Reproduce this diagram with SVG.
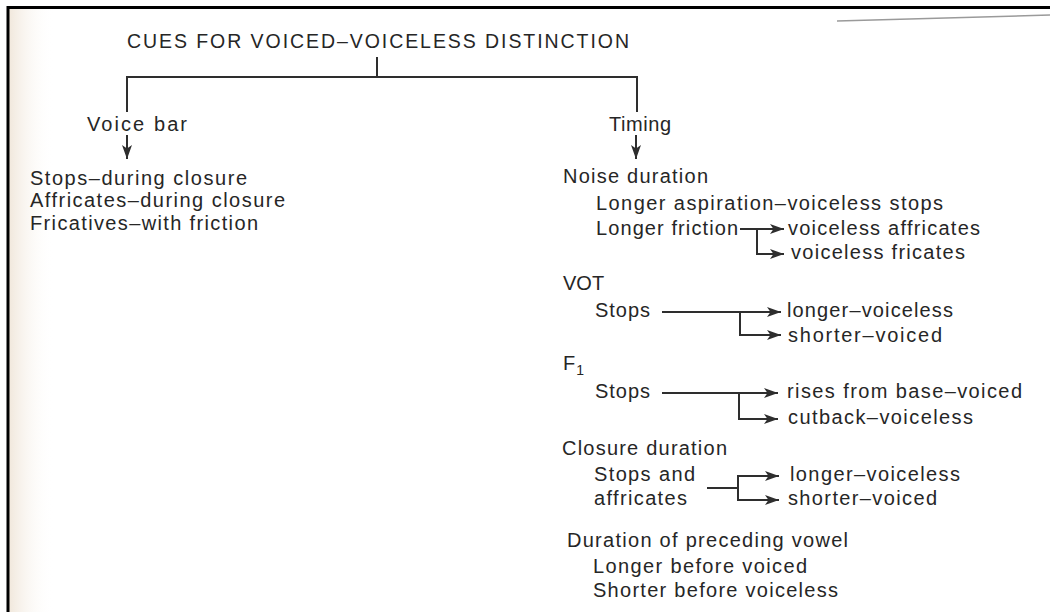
<svg xmlns="http://www.w3.org/2000/svg" width="1050" height="612" viewBox="0 0 1050 612">
<style>
  text { font-family: "Liberation Sans", Arial, sans-serif; font-size: 20px; fill: #262626; }
  .title { font-size: 19.5px; }
  .sub { font-size: 14px; }
  .ln { stroke: #2e2e2e; stroke-width: 2; fill: none; }
  .ar { stroke: #2e2e2e; stroke-width: 2; fill: none; marker-end: url(#ah); }
  .frame { stroke: #000; stroke-width: 3; fill: none; }
</style>
<defs>
  <marker id="ah" markerUnits="userSpaceOnUse" markerWidth="15" markerHeight="11" refX="14" refY="5.5" orient="auto">
    <path d="M0,0.5 L14,5.5 L0,10.5 L3.5,5.5 z" fill="#2e2e2e"/>
  </marker>
  <linearGradient id="edge" x1="0" y1="0" x2="1" y2="0">
    <stop offset="0" stop-color="#f1e8dc"/>
    <stop offset="1" stop-color="#ffffff" stop-opacity="0"/>
  </linearGradient>
</defs>
<rect x="0" y="0" width="1050" height="612" fill="#ffffff"/>
<rect x="9" y="9" width="45" height="603" fill="url(#edge)"/>
<g id="frame">
  <path class="frame" d="M8,612 V7.5 H1050"/>
  <path d="M837,21 L1050,15" stroke="#9a9a9a" stroke-width="1.5" fill="none"/>
</g>

<g id="connectors">
  <path class="ln" d="M377,57 V77"/>
  <path class="ln" d="M127,112 V77 H637 V112"/>
  <path class="ar" d="M127,135 V159"/>
  <path class="ar" d="M636,135 V159"/>
  <path class="ar" d="M740,229 H784"/>
  <path class="ar" d="M757,229 V254 H784"/>
  <path class="ar" d="M662,312 H781"/>
  <path class="ar" d="M740,312 V335 H781"/>
  <path class="ar" d="M662,393 H778"/>
  <path class="ar" d="M739,393 V419 H778"/>
  <path class="ln" d="M707,488 H738"/>
  <path class="ar" d="M738,488 V476 H779"/>
  <path class="ar" d="M738,488 V500 H779"/>
</g>

<g id="title"><text class="title" x="127" y="48" textLength="502" lengthAdjust="spacing">CUES FOR VOICED–VOICELESS DISTINCTION</text></g>

<g id="voice-bar">
  <text x="87" y="131" textLength="100" lengthAdjust="spacing">Voice bar</text>
  <text x="30" y="185" textLength="217" lengthAdjust="spacing">Stops–during closure</text>
  <text x="30" y="207" textLength="255" lengthAdjust="spacing">Affricates–during closure</text>
  <text x="30" y="230" textLength="228" lengthAdjust="spacing">Fricatives–with friction</text>
</g>

<g id="timing"><text x="609" y="131" textLength="62" lengthAdjust="spacing">Timing</text></g>

<g id="noise-duration">
  <text x="563" y="183" textLength="145" lengthAdjust="spacing">Noise duration</text>
  <text x="596" y="210" textLength="347" lengthAdjust="spacing">Longer aspiration–voiceless stops</text>
  <text x="596" y="235" textLength="142" lengthAdjust="spacing">Longer friction</text>
  <text x="788" y="235" textLength="192" lengthAdjust="spacing">voiceless affricates</text>
  <text x="791" y="259" textLength="174" lengthAdjust="spacing">voiceless fricates</text>
</g>

<g id="vot">
  <text x="563" y="290">VOT</text>
  <text x="595" y="317" textLength="55" lengthAdjust="spacing">Stops</text>
  <text x="787" y="317" textLength="166" lengthAdjust="spacing">longer–voiceless</text>
  <text x="788" y="342" textLength="154" lengthAdjust="spacing">shorter–voiced</text>
</g>

<g id="f1">
  <text x="563" y="370">F<tspan class="sub" dx="1" dy="5">1</tspan></text>
  <text x="595" y="398" textLength="55" lengthAdjust="spacing">Stops</text>
  <text x="787" y="398" textLength="235" lengthAdjust="spacing">rises from base–voiced</text>
  <text x="788" y="424" textLength="185" lengthAdjust="spacing">cutback–voiceless</text>
</g>

<g id="closure-duration">
  <text x="562" y="455" textLength="165" lengthAdjust="spacing">Closure duration</text>
  <text x="594" y="481" textLength="101" lengthAdjust="spacing">Stops and</text>
  <text x="594" y="505" textLength="93" lengthAdjust="spacing">affricates</text>
  <text x="790" y="481" textLength="170" lengthAdjust="spacing">longer–voiceless</text>
  <text x="788" y="505" textLength="149" lengthAdjust="spacing">shorter–voiced</text>
</g>

<g id="vowel-duration">
  <text x="567" y="547" textLength="281" lengthAdjust="spacing">Duration of preceding vowel</text>
  <text x="593" y="573" textLength="214" lengthAdjust="spacing">Longer before voiced</text>
  <text x="593" y="597" textLength="245" lengthAdjust="spacing">Shorter before voiceless</text>
</g>
</svg>
